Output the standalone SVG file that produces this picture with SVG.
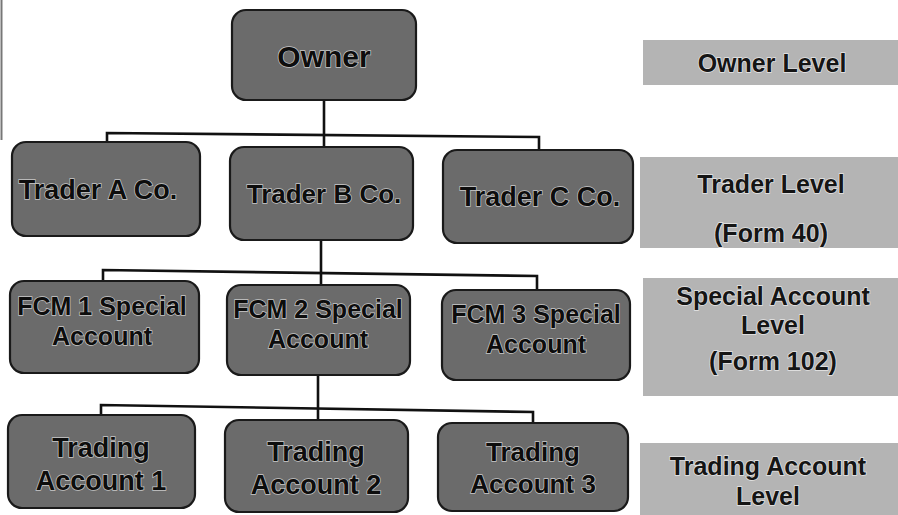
<svg xmlns="http://www.w3.org/2000/svg" width="898" height="515" viewBox="0 0 898 515">
<style>
.node{fill:#6b6b6b;stroke:#1a1a1a;stroke-width:2.2}
.lvl{fill:#b4b4b4;stroke:none}
.t{font-family:"Liberation Sans",Arial,sans-serif;font-weight:bold;fill:#0d0d0d;text-anchor:middle;stroke:#c8c8c8;stroke-width:1.4;paint-order:stroke}
.lt{font-family:"Liberation Sans",Arial,sans-serif;font-weight:bold;fill:#151515;text-anchor:middle;font-size:25px;stroke:#e6e6e6;stroke-width:1.4;paint-order:stroke}
.c{fill:none;stroke:#111;stroke-width:2.6}
</style>
<rect width="898" height="515" fill="#ffffff"/>
<line x1="1.5" y1="0" x2="1.5" y2="140" stroke="#777" stroke-width="2"/>
<g id="connectors">
<polyline class="c" points="324,100 324,147"/>
<polyline class="c" points="107,142 107,133 539,137 539,150"/>
<polyline class="c" points="321,240 321,285"/>
<polyline class="c" points="103,281 103,270 537,276 537,290"/>
<polyline class="c" points="318,374 318,420"/>
<polyline class="c" points="101,415 101,405 533,412 533,424"/>
</g>
<g id="owner"><rect class="node" x="232" y="10" width="184" height="90" rx="14"/><text class="t" x="324" y="67" font-size="30">Owner</text></g>
<g id="traderA"><rect class="node" x="12" y="142" width="188" height="94" rx="14"/><text class="t" x="98" y="199" font-size="27">Trader A Co.</text></g>
<g id="traderB"><rect class="node" x="230" y="147" width="183" height="93" rx="14"/><text class="t" x="324" y="203" font-size="26">Trader B Co.</text></g>
<g id="traderC"><rect class="node" x="443" y="150" width="190" height="93" rx="14"/><text class="t" x="540" y="206" font-size="27">Trader C Co.</text></g>
<g id="fcm1"><rect class="node" x="10" y="281" width="189" height="92" rx="14"/><text class="t" font-size="25"><tspan x="102" y="315">FCM 1 Special</tspan><tspan x="102" y="345">Account</tspan></text></g>
<g id="fcm2"><rect class="node" x="227" y="285" width="183" height="90" rx="14"/><text class="t" font-size="25"><tspan x="318" y="318">FCM 2 Special</tspan><tspan x="318" y="348">Account</tspan></text></g>
<g id="fcm3"><rect class="node" x="442" y="290" width="188" height="90" rx="14"/><text class="t" font-size="25"><tspan x="536" y="323">FCM 3 Special</tspan><tspan x="536" y="353">Account</tspan></text></g>
<g id="ta1"><rect class="node" x="8" y="415" width="187" height="93" rx="14"/><text class="t" font-size="27"><tspan x="101" y="457">Trading</tspan><tspan x="101" y="490">Account 1</tspan></text></g>
<g id="ta2"><rect class="node" x="225" y="420" width="183" height="92" rx="14"/><text class="t" font-size="27"><tspan x="316" y="461">Trading</tspan><tspan x="316" y="494">Account 2</tspan></text></g>
<g id="ta3"><rect class="node" x="438" y="423" width="190" height="88" rx="14"/><text class="t" font-size="26"><tspan x="533" y="461">Trading</tspan><tspan x="533" y="493">Account 3</tspan></text></g>
<g id="ownerLevel"><rect class="lvl" x="643" y="40" width="255" height="45"/><text class="lt" x="772" y="72">Owner Level</text></g>
<g id="traderLevel"><rect class="lvl" x="640" y="157" width="258" height="91"/><text class="lt"><tspan x="771" y="193">Trader Level</tspan><tspan x="771" y="242">(Form 40)</tspan></text></g>
<g id="specialLevel"><rect class="lvl" x="643" y="278" width="255" height="118"/><text class="lt"><tspan x="773" y="305">Special Account</tspan><tspan x="773" y="334">Level</tspan><tspan x="773" y="370">(Form 102)</tspan></text></g>
<g id="tradingLevel"><rect class="lvl" x="640" y="443" width="258" height="72"/><text class="lt"><tspan x="768" y="475">Trading Account</tspan><tspan x="768" y="505">Level</tspan></text></g>
</svg>
